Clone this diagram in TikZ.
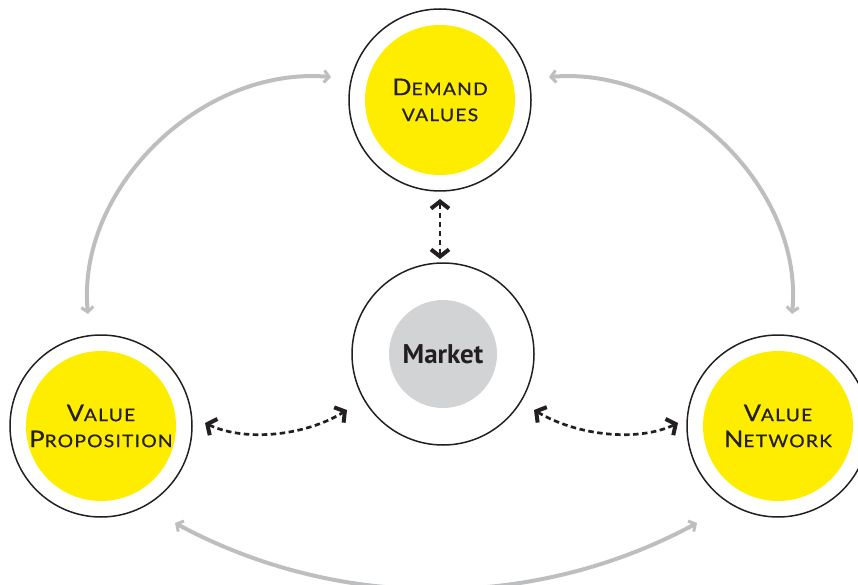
\documentclass[tikz,border=0pt]{standalone}
\usepackage{fontspec}
\newfontfamily\mkfont{PT Sans}
\newfontfamily\ttlfont{Lato}[FakeStretch=1.1,FakeBold=0.6]
\usetikzlibrary{arrows.meta}
\definecolor{cyel}{HTML}{FFED00}
\definecolor{cgray}{HTML}{D1D3D4}
\definecolor{carrow}{HTML}{BCBEC0}
\definecolor{cink}{HTML}{231F20}
\newcommand\dvcapL[1]{{\fontsize{23}{26}\selectfont\addfontfeature{LetterSpace=5}#1}}
\newcommand\dvcapS[1]{{\fontsize{17.5}{26}\selectfont\addfontfeature{LetterSpace=7}#1}}
\begin{document}
\begin{tikzpicture}[x=1pt,y=-1pt,
  ring/.style={circle,draw=cink,line width=1.5pt,minimum size=182pt,inner sep=0pt},
  yel/.style={circle,fill=cyel,minimum size=150pt,inner sep=0pt,text=cink,align=center,font=\ttlfont\fontsize{17.5}{26}\selectfont},
  mk/.style={circle,fill=cgray,minimum size=108pt,inner sep=0pt,text=cink,font=\mkfont\bfseries\fontsize{27}{30}\selectfont},
  garrow/.style={draw=carrow,line width=4pt,>={Straight Barb[length=5pt,width=12pt,line width=3pt]},<->},
  darrow/.style={draw=cink,line width=2.7pt,dash pattern=on 5.5pt off 3.5pt,>={Straight Barb[length=7pt,width=18pt,line width=4pt]},<->}]
\useasboundingbox (0,0) rectangle (858,585);
\clip (0,0) rectangle (858,585);
% circles
\node[ring] (dvr) at (440,100) {};
\node[yel] (dv) at (440,100) {\dvcapL{D}\dvcapS{EMAND}\\\dvcapS{VALUES}};
\node[ring] (mr) at (443,354) {};
\node[mk] (m) at (443,354) {Market};
\node[ring] (vpr) at (101,426) {};
\node[yel] (vp) at (101,426) {\dvcapL{V}\dvcapS{ALUE}\\\dvcapL{P}\dvcapS{ROPOSITION}};
\node[ring] (vnr) at (778,426) {};
\node[yel] (vn) at (778,426) {\dvcapL{V}\dvcapS{ALUE}\\\dvcapL{N}\dvcapS{ETWORK}};
% connector ends
\coordinate (a1) at (88,314);
\coordinate (a2) at (331,77);
\coordinate (b1) at (549,77);
\coordinate (b2) at (792,314);
\coordinate (c1) at (175,523);
\coordinate (c2) at (697,523);
\coordinate (d1) at (440,199);
\coordinate (d2) at (440,259);
\coordinate (e1) at (205,423);
\coordinate (e2) at (347,410);
\coordinate (f1) at (534,410);
\coordinate (f2) at (678,423);
% gray arcs
\draw[garrow] (a1) .. controls (76,190) and (200,66) .. (a2);
\draw[garrow] (b1) .. controls (680,66) and (804,190) .. (b2);
\draw[garrow] (c1) .. controls (338,611) and (534,611) .. (c2);
% dashed arrows
\draw[darrow] (d1) -- (d2);
\draw[darrow] (e1) .. controls (245,442) and (305,436) .. (e2);
\draw[darrow] (f1) .. controls (578,436) and (638,442) .. (f2);
\end{tikzpicture}
\end{document}
